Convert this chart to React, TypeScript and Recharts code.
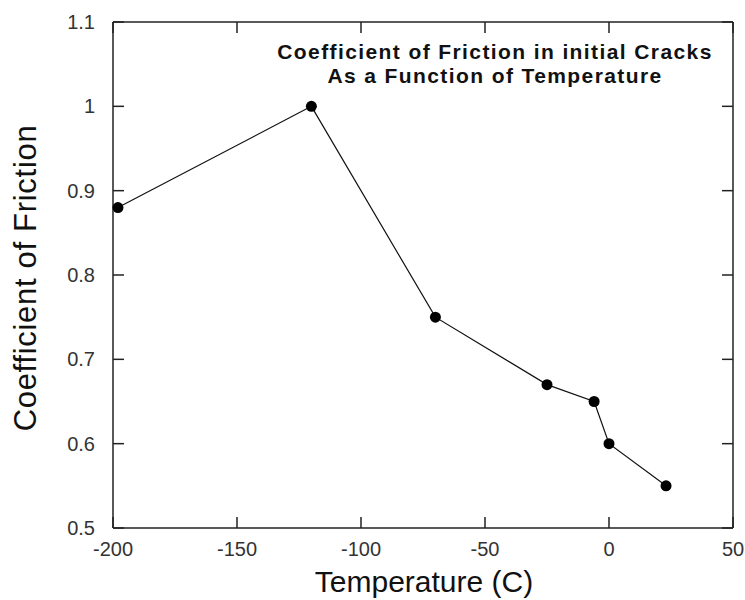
import { LineChart, Line, XAxis, YAxis } from 'recharts';

// Coefficient of friction measured in initial cracks at each temperature
const temperatures = [-198, -120, -70, -25, -6, 0, 23];
const friction = [0.88, 1.0, 0.75, 0.67, 0.65, 0.6, 0.55];

const xTicks = [-200, -150, -100, -50, 0, 50];
const yTicks = [0.5, 0.6, 0.7, 0.8, 0.9, 1, 1.1];

const titleLines = ['Coefficient of Friction in initial Cracks', 'As a Function of Temperature'];

const chartData = temperatures.map((t, i) => ({ temp: t, cof: friction[i] }));

const FONT = '"Liberation Sans", Arial, Helvetica, sans-serif';
const AXIS = '#222';
// negative tick size turns the tick marks inward
const TICK = -11;

const tickText = { fontSize: 20, fill: '#333', fontFamily: FONT, stroke: 'none' };
const axisLine = { stroke: AXIS, strokeWidth: 1.5 };
const tickLine = { stroke: AXIS, strokeWidth: 1.5 };

const NoLabel = () => <g />;

const YTitle = ({ viewBox }: any) => {
  const cx = viewBox.x + 25;
  const cy = viewBox.y + viewBox.height / 2 + 3;
  return (
    <text
      x={cx}
      y={cy}
      transform={`rotate(-90 ${cx} ${cy})`}
      textAnchor="middle"
      dominantBaseline="central"
      fontSize={31}
      letterSpacing={0.7}
      fill="#111"
      fontFamily={FONT}
    >
      Coefficient of Friction
    </text>
  );
};

const XTitle = ({ viewBox }: any) => (
  <text
    x={424}
    y={viewBox.y + 64}
    textAnchor="middle"
    fontSize={30}
    fill="#111"
    fontFamily={FONT}
  >
    Temperature (C)
  </text>
);

export default function App() {
  return (
    <div style={{ position: 'absolute', left: 0, top: 0, background: '#fff' }}>
      <LineChart
        width={745}
        height={600}
        data={chartData}
        margin={{ top: 0, right: 0, bottom: 0, left: 0 }}
      >
        <XAxis
          dataKey="temp"
          type="number"
          domain={[-200, 50]}
          ticks={xTicks}
          height={72}
          stroke={AXIS}
          tickSize={TICK}
          tickMargin={25}
          tickLine={tickLine}
          axisLine={axisLine}
          tick={tickText}
          label={<XTitle />}
        />
        <XAxis
          xAxisId="top"
          orientation="top"
          dataKey="temp"
          type="number"
          domain={[-200, 50]}
          ticks={xTicks}
          height={22}
          stroke={AXIS}
          tickSize={TICK}
          tickLine={tickLine}
          axisLine={axisLine}
          tick={<NoLabel />}
        />
        <YAxis
          type="number"
          domain={[0.5, 1.1]}
          ticks={yTicks}
          width={113}
          stroke={AXIS}
          tickSize={TICK}
          tickMargin={29}
          tickLine={tickLine}
          axisLine={axisLine}
          tick={tickText}
          label={<YTitle />}
        />
        <YAxis
          yAxisId="right"
          orientation="right"
          type="number"
          domain={[0.5, 1.1]}
          ticks={yTicks}
          width={12}
          stroke={AXIS}
          tickSize={TICK}
          tickLine={tickLine}
          axisLine={axisLine}
          tick={<NoLabel />}
        />
        {/* invisible twin so the top/right frame axes get a scale and draw their ticks */}
        <Line
          xAxisId="top"
          yAxisId="right"
          dataKey="cof"
          stroke="none"
          dot={false}
          activeDot={false}
          isAnimationActive={false}
        />
        <Line
          type="linear"
          dataKey="cof"
          stroke="#111"
          strokeWidth={1.2}
          dot={{ r: 5.5, fill: '#000', stroke: '#000', strokeWidth: 0 }}
          isAnimationActive={false}
        />
        <text
          x={495}
          y={59}
          textAnchor="middle"
          fontSize={21}
          fontWeight="bold"
          letterSpacing={1.4}
          fill="#111"
          fontFamily={FONT}
        >
          {titleLines[0]}
        </text>
        <text
          x={495}
          y={83}
          textAnchor="middle"
          fontSize={21}
          fontWeight="bold"
          letterSpacing={1.4}
          fill="#111"
          fontFamily={FONT}
        >
          {titleLines[1]}
        </text>
      </LineChart>
    </div>
  );
}
